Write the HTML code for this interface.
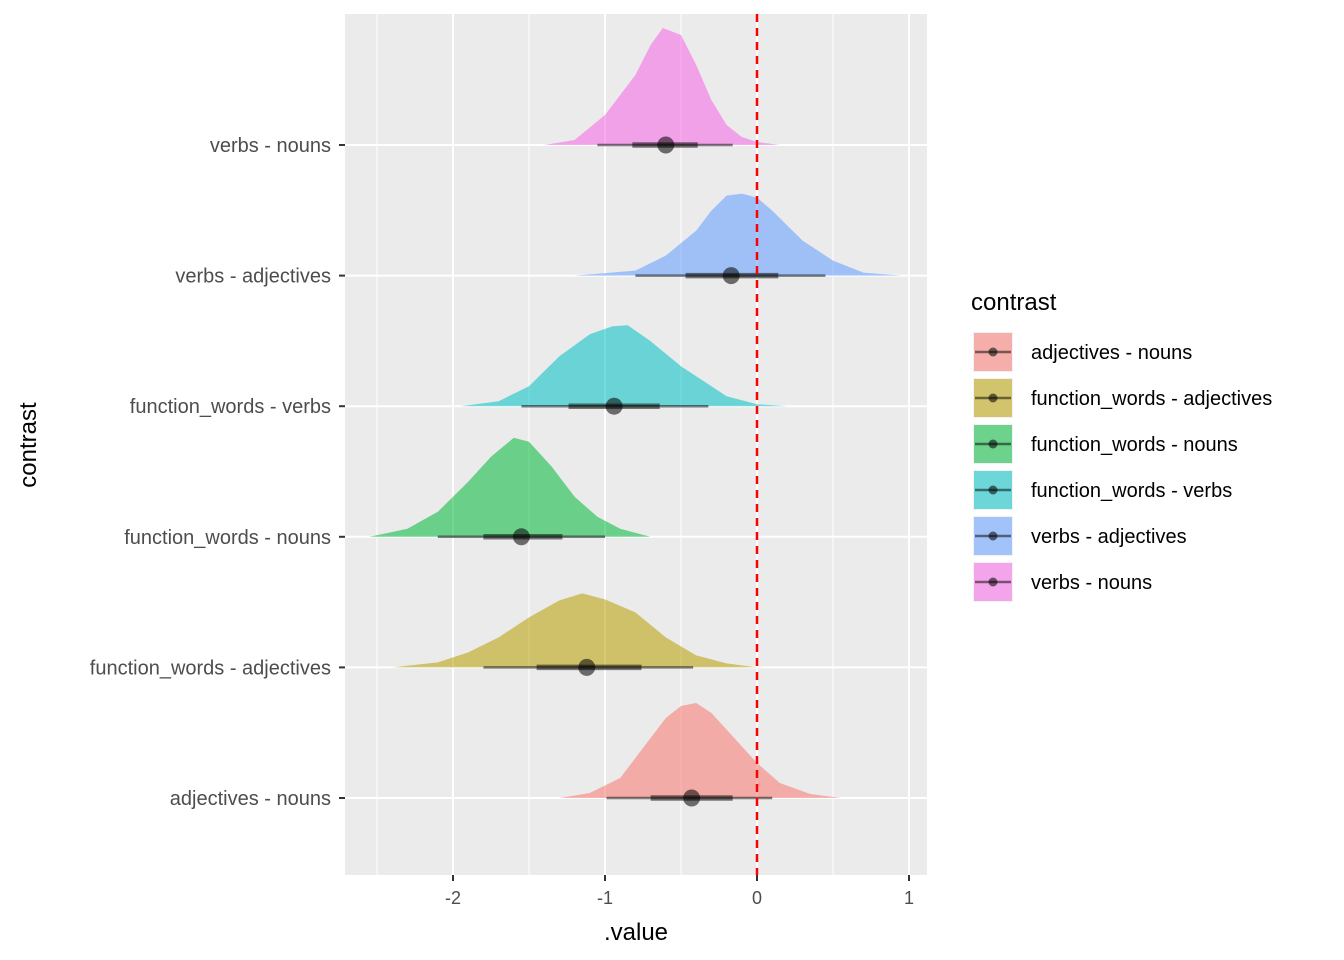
<!DOCTYPE html>
<html><head><meta charset="utf-8"><style>
body{margin:0;background:#fff;}
svg{display:block;font-family:"Liberation Sans",Arial,sans-serif;}
</style></head><body>
<svg id="chart" width="1344" height="960" viewBox="0 0 1344 960" xmlns="http://www.w3.org/2000/svg">
<rect x="345" y="14" width="582" height="861" fill="#EBEBEB"/>
<g id="grid"></g>
<g id="dens"></g>
<line id="zl" y1="14" y2="875" stroke="#FF0000" stroke-width="2.5" stroke-dasharray="8,6"/>
<g id="axes"></g>
<text x="636" y="940" font-size="24" text-anchor="middle" fill="#000">.value</text>
<text transform="translate(36,445) rotate(-90)" font-size="24" text-anchor="middle" fill="#000">contrast</text>
<g id="legend">
<text x="971" y="310" font-size="24" fill="#000">contrast</text>
</g>
</svg>
<script>
const categories=["adjectives - nouns","function_words - adjectives","function_words - nouns","function_words - verbs","verbs - adjectives","verbs - nouns"];
const colors=["#F8766D","#B79F00","#00BA38","#00BFC4","#619CFF","#F564E3"];
const xTicks=[-2,-1,0,1];
const xMinor=[-2.5,-1.5,-0.5,0.5];
const densX=[
[-1.3,-1.1,-0.9,-0.75,-0.6,-0.5,-0.4,-0.3,-0.15,0,0.15,0.35,0.55],
[-2.4,-2.1,-1.9,-1.7,-1.5,-1.3,-1.15,-1.0,-0.8,-0.6,-0.4,-0.2,0],
[-2.55,-2.3,-2.1,-1.9,-1.75,-1.6,-1.5,-1.35,-1.2,-1.05,-0.9,-0.7],
[-1.95,-1.7,-1.5,-1.3,-1.1,-0.95,-0.85,-0.7,-0.5,-0.4,-0.2,0,0.2],
[-1.2,-0.8,-0.6,-0.4,-0.3,-0.2,-0.1,0,0.1,0.2,0.3,0.5,0.7,0.95],
[-1.4,-1.2,-1.0,-0.8,-0.7,-0.62,-0.5,-0.4,-0.3,-0.2,-0.1,0,0.15]
];
const densY=[
[0,0.05,0.2,0.5,0.8,0.92,0.95,0.85,0.6,0.35,0.15,0.04,0],
[0,0.05,0.15,0.3,0.5,0.67,0.74,0.68,0.55,0.3,0.12,0.04,0],
[0,0.08,0.25,0.55,0.8,0.99,0.95,0.7,0.4,0.2,0.08,0],
[0,0.05,0.2,0.5,0.72,0.8,0.81,0.65,0.4,0.3,0.1,0.02,0],
[0,0.05,0.2,0.45,0.65,0.8,0.82,0.78,0.65,0.5,0.35,0.15,0.03,0],
[0,0.05,0.3,0.7,1.0,1.17,1.1,0.8,0.45,0.2,0.08,0.03,0]
];
const medians=[-0.43,-1.12,-1.55,-0.94,-0.17,-0.6];
const lo66=[-0.7,-1.45,-1.8,-1.24,-0.47,-0.82];
const hi66=[-0.16,-0.76,-1.28,-0.64,0.14,-0.39];
const lo95=[-0.99,-1.8,-2.1,-1.55,-0.8,-1.05];
const hi95=[0.1,-0.42,-1.0,-0.32,0.45,-0.16];

const NS="http://www.w3.org/2000/svg";
const xs=v=>757+v*152;
const ys=i=>798-i*130.6;
const H=100;
function mk(t,attrs,parent){const e=document.createElementNS(NS,t);for(const k in attrs)e.setAttribute(k,attrs[k]);parent.appendChild(e);return e;}
const grid=document.getElementById('grid'),dens=document.getElementById('dens'),axes=document.getElementById('axes'),leg=document.getElementById('legend');
xMinor.forEach(v=>{const l=mk('line',{x1:xs(v),x2:xs(v),y1:14,y2:875,stroke:'#fff','stroke-width':1},grid);

});
xTicks.forEach(v=>{const l=mk('line',{x1:xs(v),x2:xs(v),y1:14,y2:875,stroke:'#fff','stroke-width':2},grid);


const t=mk('line',{x1:xs(v),x2:xs(v),y1:875,y2:881,stroke:'#333','stroke-width':2},axes);


const tx=mk('text',{x:xs(v),y:904,'font-size':18,'text-anchor':'middle',fill:'#4D4D4D'},axes);
tx.textContent=(v<0?'-':'')+Math.abs(v);

});
categories.forEach((c,i)=>{const y=ys(i);
const g=mk('line',{x1:345,x2:927,y1:y,y2:y,stroke:'#fff','stroke-width':2},grid);


const t=mk('line',{x1:339,x2:345,y1:y,y2:y,stroke:'#333','stroke-width':2},axes);


const tx=mk('text',{x:331,y:y+7,'font-size':20,'text-anchor':'end',fill:'#4D4D4D'},axes);
tx.textContent=c;


let d='M'+xs(densX[i][0])+','+y;
densX[i].forEach((v,j)=>{d+=' L'+xs(v).toFixed(1)+','+(y-densY[i][j]*H).toFixed(1);});
d+=' L'+xs(densX[i][densX[i].length-1])+','+y+' Z';
const p=mk('path',{d:d,fill:colors[i],'fill-opacity':0.55,stroke:'none','stroke-linejoin':'round'},dens);


const l95=mk('line',{x1:xs(lo95[i]),x2:xs(hi95[i]),y1:y,y2:y,stroke:'#000','stroke-opacity':0.5,'stroke-width':2.5},dens);


const l66=mk('line',{x1:xs(lo66[i]),x2:xs(hi66[i]),y1:y,y2:y,stroke:'#000','stroke-opacity':0.5,'stroke-width':5.5},dens);


const pt=mk('circle',{cx:xs(medians[i]),cy:y,r:8.5,fill:'#000','fill-opacity':0.55},dens);


const ky=352+i*46;
const kr=mk('rect',{x:973,y:ky-20,width:40,height:40,fill:'#F2F2F2'},leg);


const kf=mk('rect',{x:974,y:ky-19,width:38,height:38,fill:colors[i],'fill-opacity':0.55},leg);


const kl=mk('line',{x1:975,x2:1011,y1:ky,y2:ky,stroke:'#000','stroke-opacity':0.5,'stroke-width':2.5},leg);


const kc=mk('circle',{cx:993,cy:ky,r:4.5,fill:'#000','fill-opacity':0.55},leg);


const lt=mk('text',{x:1031,y:ky+7,'font-size':20,fill:'#000'},leg);
lt.textContent=c;


});
const zl=document.getElementById('zl');zl.setAttribute('x1',xs(0));zl.setAttribute('x2',xs(0));
</script>
</body></html>
